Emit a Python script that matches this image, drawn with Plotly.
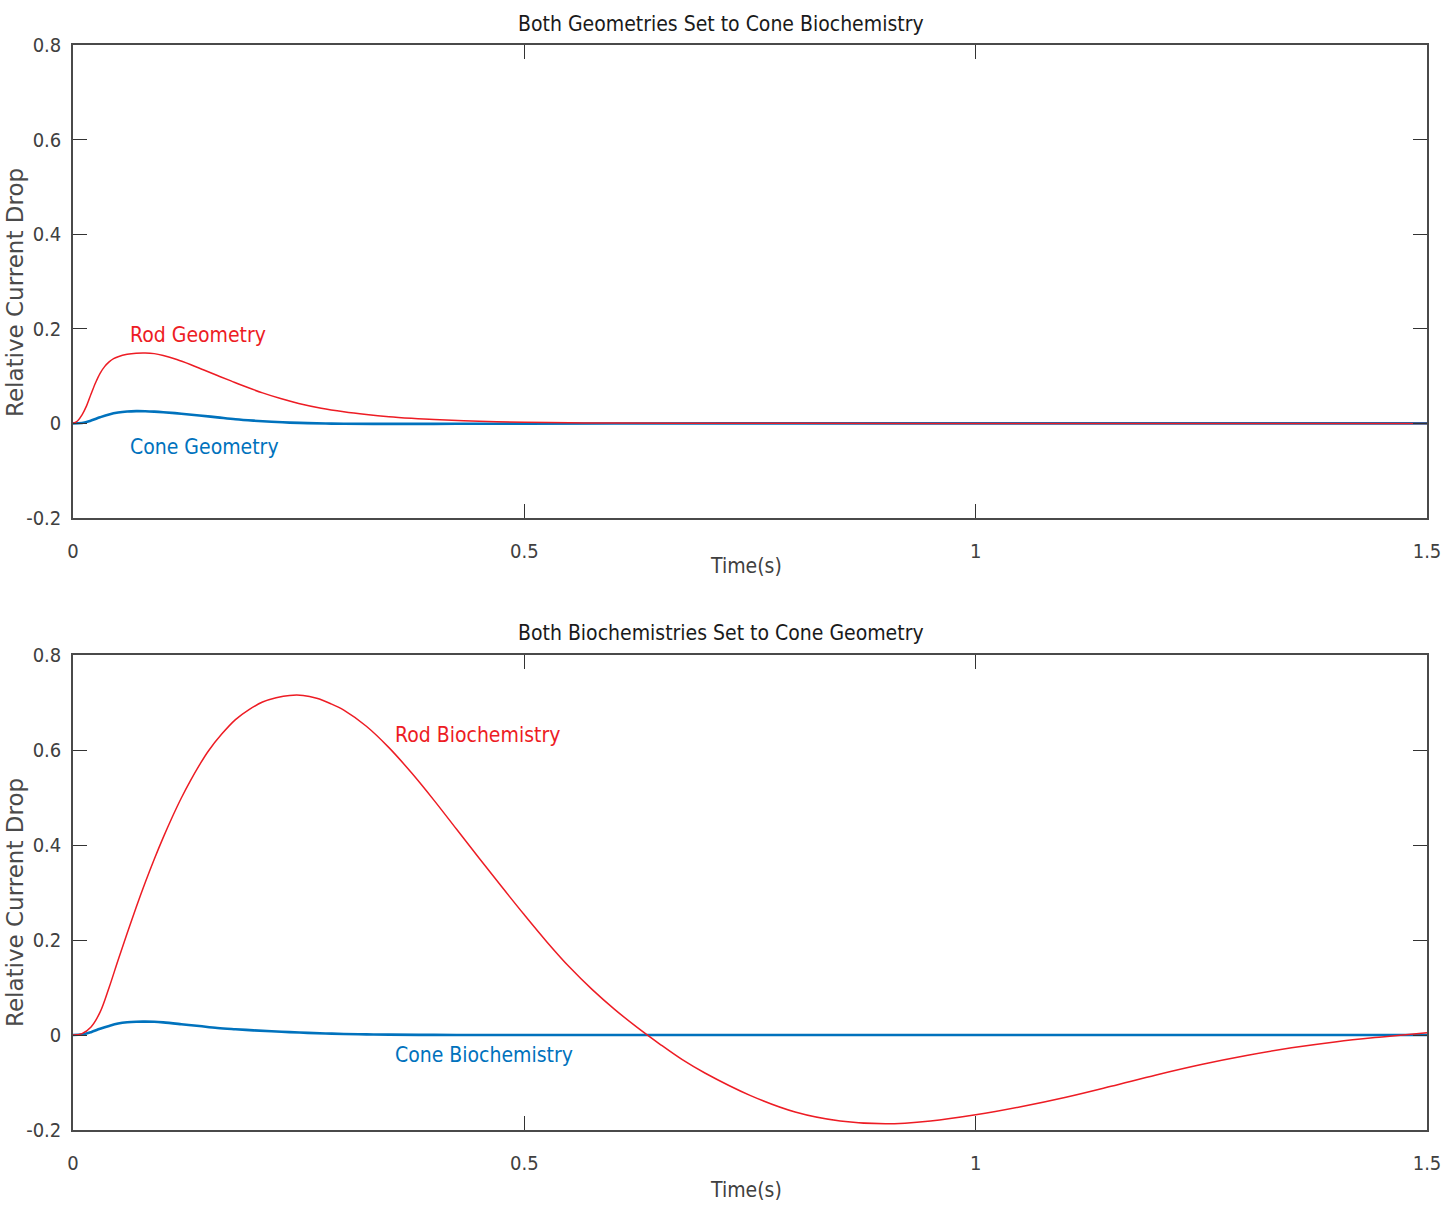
import plotly.graph_objects as go

# ---- data -------------------------------------------------------------
# Top panel: both geometries driven by cone biochemistry
rod_geom_t = [0, 0.005, 0.01, 0.015, 0.02, 0.025, 0.03, 0.035, 0.04, 0.045, 0.05, 0.06,
              0.07, 0.08, 0.09, 0.1, 0.115, 0.13, 0.145, 0.16, 0.175, 0.19, 0.21, 0.23,
              0.25, 0.275, 0.3, 0.325, 0.35, 0.375, 0.4, 0.45, 0.5, 0.55, 0.6, 0.7, 0.8,
              1.0, 1.2, 1.5]
rod_geom_y = [0, 0.005, 0.018, 0.037, 0.062, 0.086, 0.106, 0.120, 0.130, 0.137, 0.141,
              0.146, 0.1485, 0.149, 0.1475, 0.1435, 0.135, 0.1245, 0.1128, 0.1012, 0.0898,
              0.0785, 0.0645, 0.0525, 0.0422, 0.0322, 0.0248, 0.019, 0.0143, 0.0108, 0.008,
              0.0045, 0.0025, 0.0013, 0.0007, 0.0003, 0.0001, 0, 0, 0]

cone_geom_t = [0, 0.01, 0.02, 0.03, 0.04, 0.05, 0.06, 0.07, 0.08, 0.09, 0.1, 0.12, 0.14,
               0.16, 0.18, 0.2, 0.22, 0.24, 0.26, 0.28, 0.3, 0.35, 0.4, 0.45, 0.5, 0.6,
               0.8, 1.0, 1.5]
cone_geom_y = [0, 0.001, 0.006, 0.013, 0.019, 0.023, 0.0252, 0.026, 0.0258, 0.025,
               0.0237, 0.0205, 0.0168, 0.0128, 0.0088, 0.0058, 0.0034, 0.0017, 0.0006,
               -0.0002, -0.0007, -0.0011, -0.001, -0.0007, -0.0004, -0.0002, 0, 0, 0]

# Bottom panel: both biochemistries driven by cone geometry
rod_bio_t = [0, 0.01, 0.02, 0.03, 0.04, 0.05, 0.06, 0.07, 0.08, 0.09, 0.1, 0.11, 0.12,
             0.13, 0.14, 0.15, 0.165, 0.18, 0.195, 0.21, 0.225, 0.24, 0.255, 0.27, 0.285,
             0.3, 0.325, 0.35, 0.375, 0.4, 0.425, 0.45, 0.475, 0.5, 0.525, 0.55, 0.575,
             0.6, 0.625, 0.65, 0.675, 0.7, 0.75, 0.8, 0.85, 0.9, 0.95, 1.0, 1.05, 1.1,
             1.15, 1.2, 1.25, 1.3, 1.35, 1.4, 1.45, 1.5]
rod_bio_y = [0, 0.003, 0.017, 0.048, 0.100, 0.158, 0.214, 0.269, 0.321, 0.370, 0.416,
             0.459, 0.499, 0.535, 0.568, 0.598, 0.634, 0.664, 0.685, 0.701, 0.710, 0.715,
             0.715, 0.709, 0.698, 0.684, 0.650, 0.605, 0.552, 0.494, 0.433, 0.372, 0.312,
             0.253, 0.196, 0.143, 0.096, 0.054, 0.016, -0.019, -0.052, -0.080, -0.127,
             -0.162, -0.181, -0.187, -0.181, -0.168, -0.151, -0.131, -0.108, -0.084,
             -0.062, -0.043, -0.027, -0.014, -0.004, 0.005]

cone_bio_t = [0, 0.01, 0.02, 0.03, 0.04, 0.05, 0.06, 0.07, 0.08, 0.09, 0.1, 0.12, 0.14,
              0.16, 0.18, 0.2, 0.22, 0.24, 0.26, 0.28, 0.3, 0.325, 0.35, 0.4, 0.45, 0.5,
              0.6, 0.8, 1.0, 1.5]
cone_bio_y = [0, 0.001, 0.006, 0.013, 0.019, 0.024, 0.0268, 0.028, 0.0282, 0.0278,
              0.0265, 0.0228, 0.0188, 0.0148, 0.0121, 0.0098, 0.0078, 0.006, 0.0045,
              0.0032, 0.0022, 0.0013, 0.0007, 0.0002, 0.0001, 0, 0, 0, 0, 0]

x_ticks = [0, 0.5, 1, 1.5]
x_tick_text = ["0", "0.5", "1", "1.5"]
y_ticks = [-0.2, 0, 0.2, 0.4, 0.6, 0.8]
y_tick_text = ["-0.2", "0", "0.2", "0.4", "0.6", "0.8"]

panel_titles = ["Both Geometries Set to Cone Biochemistry",
                "Both Biochemistries Set to Cone Geometry"]

# ---- styling ----------------------------------------------------------
W, H = 1453, 1209
ML, MR, MT, MB = 73, 26, 45, 79
PW, PH = W - ML - MR, H - MT - MB
RED = "#ED1C24"
BLUE = "#0072BD"
NARROW = "DejaVu Sans Condensed, Liberation Sans Narrow, sans-serif"
WIDE = "DejaVu Sans, Verdana, sans-serif"


def px_x(p):
    # pixel column -> paper x
    return (p - ML) / PW


def px_y(p):
    # pixel row -> paper y
    return (H - MB - p) / PH


fig = go.Figure()

line_red = dict(color=RED, width=1.5, shape="spline", smoothing=1.0)
line_blue = dict(color=BLUE, width=2.6, shape="spline", smoothing=1.0)

fig.add_trace(go.Scatter(x=cone_geom_t, y=cone_geom_y, mode="lines", line=line_blue,
                         xaxis="x", yaxis="y", showlegend=False))
fig.add_trace(go.Scatter(x=rod_geom_t, y=rod_geom_y, mode="lines", line=line_red,
                         xaxis="x", yaxis="y", showlegend=False))
fig.add_trace(go.Scatter(x=cone_bio_t, y=cone_bio_y, mode="lines", line=line_blue,
                         xaxis="x2", yaxis="y2", showlegend=False))
fig.add_trace(go.Scatter(x=rod_bio_t, y=rod_bio_y, mode="lines", line=line_red,
                         xaxis="x2", yaxis="y2", showlegend=False))

top_dom = [px_y(518), px_y(45)]
bot_dom = [px_y(1130), px_y(655)]


def xaxis(anchor):
    return dict(domain=[0, 1], anchor=anchor, range=[0, 1.5], tickvals=x_ticks,
                ticktext=x_tick_text, ticks="inside", ticklen=14, tickwidth=1,
                tickcolor="#333333", showline=True, linecolor="#4a4a4a", linewidth=1.5,
                mirror="allticks", showgrid=False, zeroline=False, automargin=False,
                ticklabelstandoff=14,
                tickfont=dict(family=NARROW, size=20, color="#404040"))


def yaxis(anchor, dom):
    return dict(domain=dom, anchor=anchor, range=[-0.2, 0.8], tickvals=y_ticks,
                ticktext=y_tick_text, ticks="inside", ticklen=14, tickwidth=1,
                tickcolor="#333333", showline=True, linecolor="#4a4a4a", linewidth=1.5,
                mirror="allticks", showgrid=False, zeroline=False, automargin=False,
                ticklabelstandoff=6,
                tickfont=dict(family=NARROW, size=20, color="#404040"))


annotations = []
# panel titles and axis titles
for title, ty, xt_y, yt_y in [(panel_titles[0], 24, 566, 293),
                              (panel_titles[1], 633, 1190, 903)]:
    annotations.append(dict(text=title, x=px_x(721), y=px_y(ty), xref="paper", yref="paper",
                            showarrow=False, xanchor="center", yanchor="middle",
                            font=dict(family=NARROW, size=21, color="#1a1a1a")))
    annotations.append(dict(text="Time(s)", x=px_x(746), y=px_y(xt_y), xref="paper",
                            yref="paper", showarrow=False, xanchor="center",
                            yanchor="middle",
                            font=dict(family=NARROW, size=21, color="#404040")))
    annotations.append(dict(text="Relative Current Drop", x=px_x(15), y=px_y(yt_y),
                            xref="paper", yref="paper", showarrow=False,
                            xanchor="center", yanchor="middle", textangle=-90,
                            font=dict(family=WIDE, size=23, color="#4a4a4a")))

# curve labels
curve_labels = [
    ("Rod Geometry", 0.061, 0.186, "x", "y", RED),
    ("Cone Geometry", 0.061, -0.049, "x", "y", BLUE),
    ("Rod Biochemistry", 0.355, 0.632, "x2", "y2", RED),
    ("Cone Biochemistry", 0.355, -0.042, "x2", "y2", BLUE),
]
for text, lx, ly, xr, yr, col in curve_labels:
    annotations.append(dict(text=text, x=lx, y=ly, xref=xr, yref=yr, showarrow=False,
                            xanchor="left", yanchor="middle",
                            font=dict(family=NARROW, size=21, color=col)))

fig.update_layout(
    width=W, height=H,
    margin=dict(l=ML, r=MR, t=MT, b=MB, autoexpand=False),
    paper_bgcolor="white", plot_bgcolor="white",
    xaxis=xaxis("y"), yaxis=yaxis("x", top_dom),
    xaxis2=xaxis("y2"), yaxis2=yaxis("x2", bot_dom),
    annotations=annotations,
    showlegend=False,
)

fig.write_html("out.html")
